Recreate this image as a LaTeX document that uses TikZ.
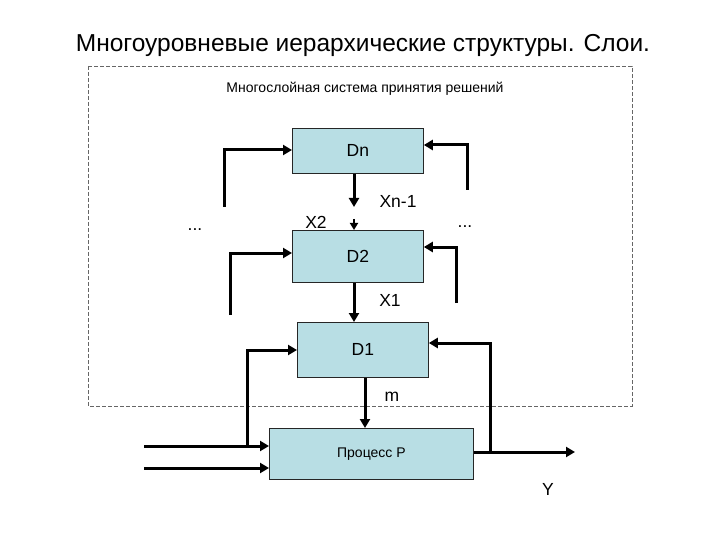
\documentclass[tikz,border=0pt]{standalone}
\usepackage{fontspec}
\setmainfont{Liberation Sans}
\usetikzlibrary{arrows.meta}
\definecolor{boxfill}{RGB}{184,222,228}
\begin{document}
\begin{tikzpicture}[x=1pt,y=-1pt,
  blk/.style={draw=black!85, line width=0.8pt, fill=boxfill, inner sep=0pt, anchor=north west, font=\fontsize{17.5}{20}\selectfont},
  arr/.style={line width=3pt, -{Triangle[length=9pt,width=10pt]}},
  sarr/.style={line width=2pt, -{Triangle[length=7pt,width=8pt]}},
  lbl/.style={font=\fontsize{17.5}{20}\selectfont},
  frame/.style={draw=black!60, line width=0.8pt, dash pattern=on 4pt off 2pt}]
\useasboundingbox (0,0) rectangle (720,540);
% title
\node[font=\fontsize{24.5}{28}\selectfont] (title) at (363,45) {Многоуровневые иерархические структуры. Слои.};
% dashed frame
\draw[frame] (88,66) rectangle (632,406);
\node[font=\fontsize{14}{16}\selectfont] (sub) at (365,89) {Многослойная система принятия решений};
% boxes
\node[blk, minimum width=131pt, minimum height=45pt] (dn) at (292,128) {Dn};
\node[blk, minimum width=131pt, minimum height=52pt] (d2) at (292,230) {D2};
\node[blk, minimum width=131pt, minimum height=55pt] (d1) at (297,322) {D1};
\node[blk, minimum width=204pt, minimum height=51pt, font=\fontsize{14}{16}\selectfont] (proc) at (269,428) {Процесс P};
% coordinates
\coordinate (dnL) at (224,207);
\coordinate (dnLc) at (224,150);
\coordinate (dnR) at (467,190);
\coordinate (dnRc) at (467,145);
\coordinate (xn1) at (354,207);
\coordinate (x2s) at (354,219);
\coordinate (d2L) at (230,315);
\coordinate (d2Lc) at (230,253);
\coordinate (d2R) at (456,303);
\coordinate (d2Rc) at (456,247);
\coordinate (x1) at (354,300);
\coordinate (d1Lb) at (247,446);
\coordinate (d1Lc) at (247,350);
\coordinate (d1Rb) at (490,452);
\coordinate (d1Rc) at (490,343);
\coordinate (mm) at (365,400);
\coordinate (in1) at (144,446);
\coordinate (in2) at (144,468);
\coordinate (outY) at (575,452);
% Dn connectors
\draw[arr] (dnL) -- (dnLc) -- (dnLc -| dn.west);
\draw[arr] (dnR) -- (dnRc) -- (dnRc -| dn.east);
\draw[arr] (xn1 |- dn.south) -- (xn1);
\draw[sarr] (x2s) -- (x2s |- d2.north);
% D2 connectors
\draw[arr] (d2L) -- (d2Lc) -- (d2Lc -| d2.west);
\draw[arr] (d2R) -- (d2Rc) -- (d2Rc -| d2.east);
\draw[arr] (x1 |- d2.south) -- (x1 |- d1.north);
% D1 connectors
\draw[arr] (d1Lb) -- (d1Lc) -- (d1Lc -| d1.west);
\draw[arr] (d1Rb) -- (d1Rc) -- (d1Rc -| d1.east);
\draw[arr] (mm |- d1.south) -- (mm |- proc.north);
% process
\draw[arr] (in1) -- (in1 -| proc.west);
\draw[arr] (in2) -- (in2 -| proc.west);
\draw[arr] (outY -| proc.east) -- (outY);
% labels
\node[lbl] (lxn1) at (398,201) {Xn-1};
\node[lbl] (lx2) at (316,222) {X2};
\node[lbl] (lx1) at (390,300) {X1};
\node[lbl] (lm) at (392,397) {m};
\node[lbl] (ly) at (548,489) {Y};
\node[lbl] (dotsL) at (195,230) {...};
\node[lbl] (dotsR) at (465,227) {...};
\end{tikzpicture}
\end{document}
